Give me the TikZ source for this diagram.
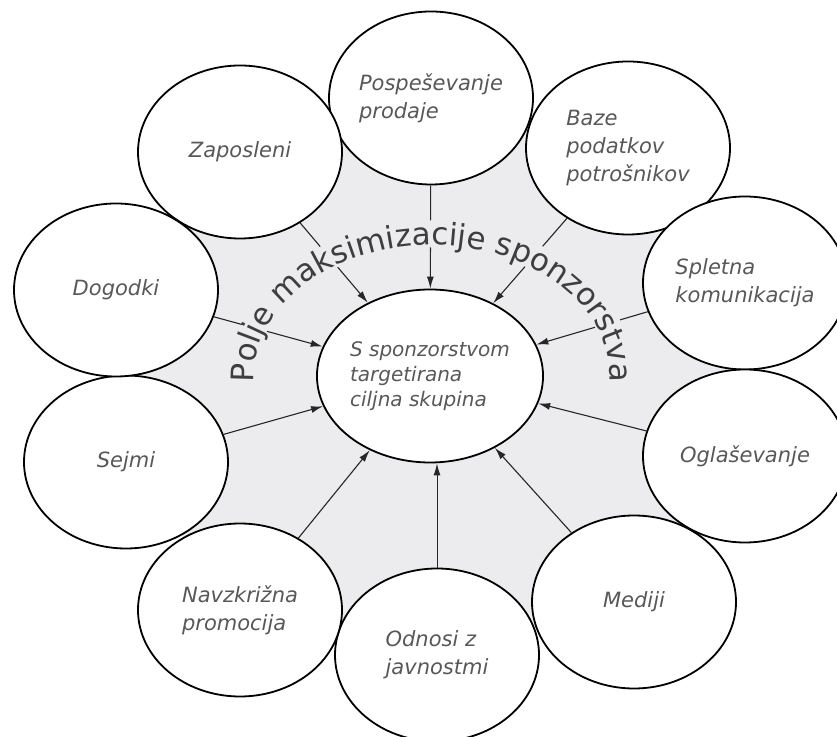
\documentclass[tikz,border=0pt]{standalone}
\usepackage{fontspec}
\setmainfont{DejaVu Sans}
\newfontfamily\arcfont{DejaVu Sans}
\usetikzlibrary{shapes.geometric,arrows.meta,decorations.text}
\definecolor{fieldgray}{RGB}{236,236,239}
\definecolor{labelgray}{RGB}{88,88,88}
\definecolor{arcgray}{RGB}{62,62,62}
\begin{document}
\begin{tikzpicture}[x=1pt,y=1pt,
  bubble/.style={ellipse, draw=black, line width=1.8pt, fill=white,
    minimum width=204pt, minimum height=173pt, inner sep=0pt, align=left,
    font=\fontsize{21}{28}\selectfont\itshape, text=labelgray},
  feed/.style={-{Latex[length=12pt,width=7pt]}, line width=1.1pt, draw=black!85},
  % leave a gap where a connector runs under the curved caption
  gapped/.style 2 args={dash pattern=on #1pt off #2pt on 500pt},
  caption/.style={decorate, decoration={text along path, text align=center,
    text color=#1,
    text={|\arcfont\fontsize{31}{31}\selectfont|Polje maksimizacije sponzorstva}}}]
\useasboundingbox (0,0) rectangle (837,736);
\fill[white] (0,0) rectangle (837,736);

% centres of the surrounding bubbles
\coordinate (c-pos)  at (431,638);
\coordinate (c-baze) at (628,588);
\coordinate (c-splet) at (745,453);
\coordinate (c-oglas) at (745,280);
\coordinate (c-med)  at (634,134);
\coordinate (c-odn)  at (437,81);
\coordinate (c-navz) at (240,126);
\coordinate (c-sejm) at (126,274);
\coordinate (c-dog)  at (116,446);
\coordinate (c-zap)  at (240,584);

% shaded field between the bubbles
\fill[fieldgray] (c-pos) -- (c-baze) -- (c-splet) -- (c-oglas) -- (c-med)
  -- (c-odn) -- (c-navz) -- (c-sejm) -- (c-dog) -- (c-zap) -- cycle;

\node[bubble, font=\fontsize{20}{25}\selectfont\itshape] (core) at (430,360)
  {S sponzorstvom\\targetirana\\ciljna skupina};

\node[bubble] (pos)   at (c-pos)   {Pospeševanje\\prodaje};
\node[bubble] (baze)  at (c-baze)  {Baze\\podatkov\\potrošnikov};
\node[bubble] (splet) at (c-splet) {Spletna\\komunikacija};
\node[bubble] (oglas) at (c-oglas) {Oglaševanje};
\node[bubble] (med)   at (c-med)   {Mediji};
\node[bubble] (odn)   at (c-odn)   {Odnosi z\\javnostmi};
\node[bubble] (navz)  at (c-navz)  {Navzkrižna\\promocija};
\node[bubble] (sejm)  at (c-sejm)  {Sejmi};
\node[bubble] (dog)   at (c-dog)   {Dogodki};
\node[bubble] (zap)   at (c-zap)   {Zaposleni};

% connectors into the target group
\draw[feed, gapped={35}{27}] (pos) -- (core);
\draw[feed, gapped={37}{27}] (baze) -- (core);
\draw[feed, gapped={29}{26}] (splet) -- (core);
\draw[feed, gapped={29}{26}] (dog) -- (core);
\draw[feed, gapped={31}{27}] (zap) -- (core);
\foreach \src in {oglas,med,navz,sejm}
  \draw[feed] (\src) -- (core);
\draw[feed, line width=1pt] (odn.north) -- (odn.north |- core.south);

% curved caption over the inner field
\path[caption=arcgray]
  (432,360) ++(195:178pt and 131pt)
  arc[start angle=195, end angle=-15, x radius=178pt, y radius=131pt];
\end{tikzpicture}
\end{document}
